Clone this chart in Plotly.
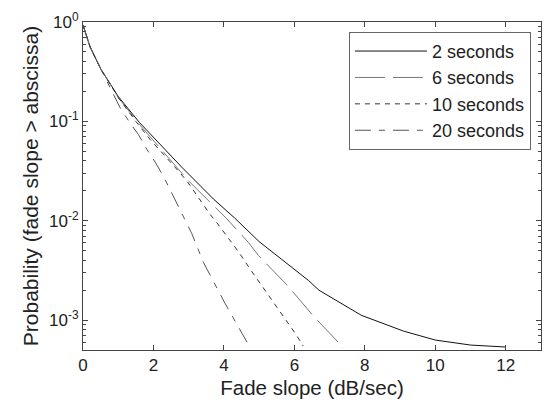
import plotly.graph_objects as go

# ---- data ----
x_2s = [0, 0.1, 0.2, 0.5, 1.0, 1.6, 2.2, 2.8, 3.7, 4.3, 5.0, 5.6, 6.4, 6.7, 7.9, 9.1, 10.0, 11.0, 12.0]
p_2s = [0.933, 0.724, 0.562, 0.339, 0.178, 0.0977, 0.0575, 0.0347, 0.0166, 0.0107, 0.00617, 0.00417,
        0.00251, 0.00200, 0.00112, 0.000776, 0.000631, 0.000562, 0.000537]

x_6s = [0, 0.1, 0.2, 0.5, 1.0, 1.6, 2.2, 3.0, 4.08, 4.7, 4.98, 5.8, 6.54, 7.4]
p_6s = [0.933, 0.724, 0.562, 0.339, 0.174, 0.0933, 0.0537, 0.0251, 0.0105, 0.00603, 0.00447, 0.00224,
        0.00110, 0.000525]

x_10s = [0, 0.1, 0.2, 0.5, 1.0, 1.5, 1.9, 2.28, 2.52, 2.76, 2.99, 3.18, 3.37, 3.6, 3.8, 4.03, 4.41,
         4.79, 5.03, 5.22, 5.55, 5.79, 6.02, 6.25]
p_10s = [0.933, 0.724, 0.562, 0.339, 0.174, 0.100, 0.0661, 0.0468, 0.0380, 0.0302, 0.0240, 0.0191,
         0.0151, 0.0117, 0.00955, 0.00741, 0.00490, 0.00309, 0.00234, 0.00186, 0.00126, 0.000977,
         0.000741, 0.000550]

x_20s = [0, 0.1, 0.2, 0.5, 0.8, 1.05, 1.34, 1.57, 1.81, 2.05, 2.28, 2.57, 2.87, 3.09, 3.42, 3.84,
         4.03, 4.51, 4.75]
p_20s = [0.933, 0.724, 0.562, 0.339, 0.209, 0.138, 0.0955, 0.0741, 0.0525, 0.0389, 0.0282, 0.0174,
         0.0107, 0.00741, 0.00380, 0.00200, 0.00148, 0.000741, 0.000525]

series_names = ["2 seconds", "6 seconds", "10 seconds", "20 seconds"]

x_ticks = [0, 2, 4, 6, 8, 10, 12]
y_ticks = [1e-3, 1e-2, 1e-1, 1]
y_tick_text = ["10<sup>-3</sup>", "10<sup>-2</sup>", "10<sup>-1</sup>", "10<sup>0</sup>"]

# ---- figure ----
styles = [
    dict(color="#111111", width=1, dash="solid"),
    dict(color="#777777", width=1, dash="30px,8px"),
    dict(color="#333333", width=1, dash="5px,5px"),
    dict(color="#555555", width=1, dash="16px,8px,6px,8px"),
]
xs = [x_2s, x_6s, x_10s, x_20s]
ps = [p_2s, p_6s, p_10s, p_20s]

fig = go.Figure()
for name, x, p, st in zip(series_names, xs, ps, styles):
    fig.add_trace(go.Scatter(x=x, y=p, mode="lines", name=name, line=st,
                             legendgroup=name))

font_family = "Liberation Sans, Arial, sans-serif"
minor_vals = []
for e in [-4, -3, -2, -1]:
    for k in range(2, 10):
        minor_vals.append(k * 10 ** e)

fig.update_layout(
    width=549, height=404,
    margin=dict(l=83, r=8, t=22, b=54),
    paper_bgcolor="white", plot_bgcolor="white",
    font=dict(family=font_family, size=17, color="#222222"),
    showlegend=True,
    legend=dict(x=0.978, y=0.97, xanchor="right", yanchor="top",
                bgcolor="white", bordercolor="#666666", borderwidth=1,
                font=dict(size=18, color="#222222"), tracegroupgap=0,
                itemwidth=72),
    xaxis=dict(range=[0, 13], tickvals=x_ticks, ticks="inside", ticklen=5,
               showline=True, linecolor="#444444", linewidth=1, mirror="ticks",
               showgrid=False, zeroline=False, tickfont=dict(size=17),
               title=dict(text="Fade slope (dB/sec)", font=dict(size=20.5), standoff=6)),
    yaxis=dict(type="log", range=[-3.3, 0], tickvals=y_ticks, ticktext=y_tick_text,
               ticks="inside", ticklen=5, showline=True, linecolor="#444444", linewidth=1,
               mirror="ticks", showgrid=False, zeroline=False, tickfont=dict(size=17),
               minor=dict(tickvals=minor_vals, ticks="inside", ticklen=3, showgrid=False),
               title=dict(text="Probability (fade slope > abscissa)", font=dict(size=21), standoff=4)),
)

fig.write_html("out.html")
